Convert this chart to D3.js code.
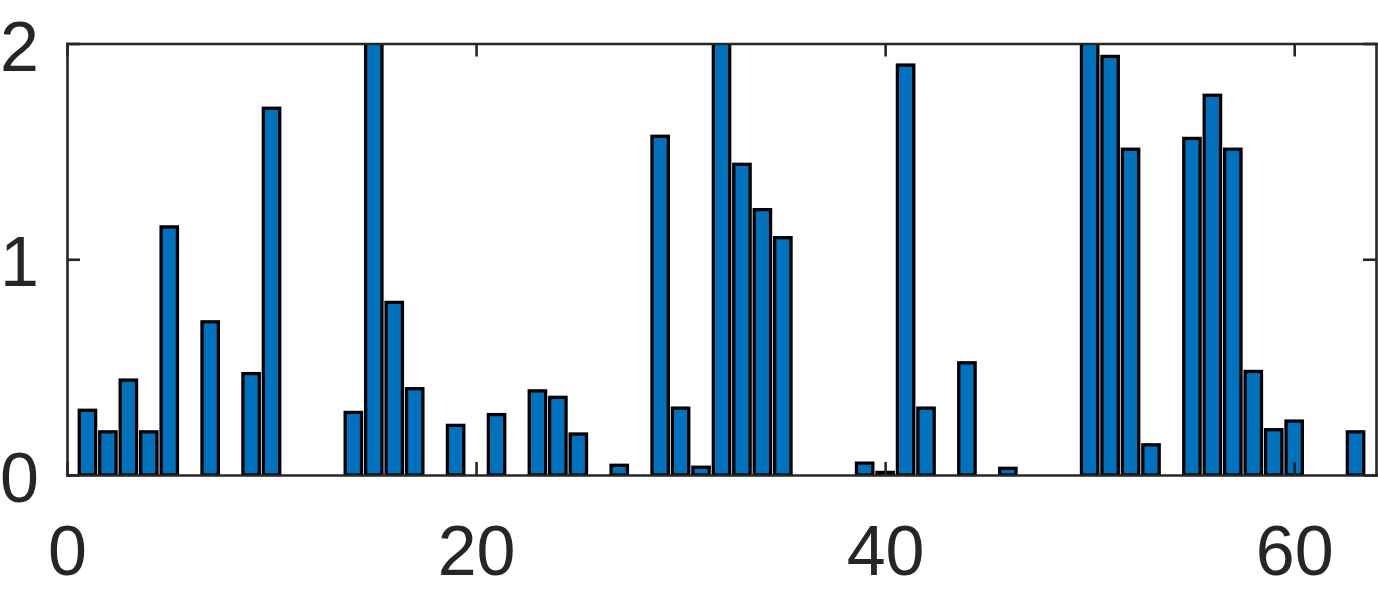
<!DOCTYPE html>
<html>
<head>
<meta charset="utf-8">
<script src="https://cdn.jsdelivr.net/npm/d3@7"></script>
<style>
html,body{margin:0;padding:0;background:#fff;overflow:hidden}
svg{display:block}
</style>
</head>
<body>
<svg id="chart" width="1378" height="591"></svg>
<script>
// ---- data ----
const categories = [1,2,3,4,5,6,7,8,9,10,11,12,13,14,15,16,17,18,19,20,
  21,22,23,24,25,26,27,28,29,30,31,32,33,34,35,36,37,38,39,40,
  41,42,43,44,45,46,47,48,49,50,51,52,53,54,55,56,57,58,59,60,61,62,63];
const values = [0.30,0.20,0.44,0.20,1.15,0,0.71,0,0.47,1.70,
  0,0,0,0.29,2.20,0.80,0.40,0,0.23,0,
  0.28,0,0.39,0.36,0.19,0,0.045,0,1.57,0.31,
  0.036,2.20,1.44,1.23,1.10,0,0,0,0.055,0.012,
  1.90,0.31,0,0.52,0,0.031,0,0,0,2.20,
  1.94,1.51,0.14,0,1.56,1.76,1.51,0.48,0.21,0.25,
  0,0,0.20];
const xTicks = [0,20,40,60];
const yTicks = [0,1,2];
const xLimits = [0,64];
const yLimits = [0,2];

// ---- layout ----
const box = {left:67, right:1376, top:43.5, bottom:475};
const axisColor = '#262626';
const lw = 2.6;
const barLw = 3.3;
const tickLen = 13;
const fontSize = 70;
const barWidth = 0.8;

const x = d3.scaleLinear().domain(xLimits).range([box.left, box.right]);
const y = d3.scaleLinear().domain(yLimits).range([box.bottom, box.top]);

const svg = d3.select('#chart');
svg.append('rect').attr('width',1378).attr('height',591).attr('fill','#fff');

svg.append('defs').append('clipPath').attr('id','plotclip')
  .append('rect')
  .attr('x', box.left).attr('y', box.top)
  .attr('width', box.right - box.left).attr('height', box.bottom - box.top);

const data = categories.map((c,i)=>({c, v: values[i]})).filter(d => d.v > 0);

svg.append('g').attr('clip-path','url(#plotclip)')
  .selectAll('rect').data(data).join('rect')
  .attr('x', d => x(d.c - barWidth/2))
  .attr('width', d => x(d.c + barWidth/2) - x(d.c - barWidth/2))
  .attr('y', d => y(d.v))
  .attr('height', d => y(0) - y(d.v))
  .attr('fill', '#0072BD')
  .attr('stroke', '#000')
  .attr('stroke-width', barLw);

function styleAxis(g){
  g.selectAll('.domain').attr('stroke', axisColor).attr('stroke-width', lw).attr('stroke-linecap','square');
  g.selectAll('.tick line').attr('stroke', axisColor).attr('stroke-width', lw);
  g.selectAll('.tick text').attr('fill', axisColor)
    .style('font-family', '"Liberation Sans", Arial, Helvetica, sans-serif')
    .style('font-size', fontSize + 'px');
}

// bottom
const gB = svg.append('g').attr('transform', `translate(0,${box.bottom})`)
  .call(d3.axisBottom(x).tickValues(xTicks).tickSizeInner(-tickLen).tickSizeOuter(0).tickPadding(50).tickFormat(d3.format('d')));
styleAxis(gB);
// top
const gT = svg.append('g').attr('transform', `translate(0,${box.top})`)
  .call(d3.axisTop(x).tickValues(xTicks).tickSizeInner(-tickLen).tickSizeOuter(0).tickFormat(''));
styleAxis(gT);
// left
const gL = svg.append('g').attr('transform', `translate(${box.left},0)`)
  .call(d3.axisLeft(y).tickValues(yTicks).tickSizeInner(-tickLen).tickSizeOuter(0).tickPadding(28).tickFormat(d3.format('d')));
styleAxis(gL);
gL.selectAll('.tick text').attr('dy', '0.38em');
// right
const gR = svg.append('g').attr('transform', `translate(${box.right},0)`)
  .call(d3.axisRight(y).tickValues(yTicks).tickSizeInner(-tickLen).tickSizeOuter(0).tickFormat(''));
styleAxis(gR);
</script>
</body>
</html>
